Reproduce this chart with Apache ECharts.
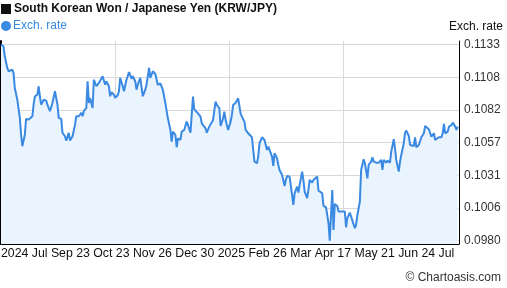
<!DOCTYPE html>
<html><head><meta charset="utf-8">
<script src="https://cdn.jsdelivr.net/npm/echarts@6/dist/echarts.min.js"></script>
<style>html,body{margin:0;padding:0;background:#fff}#c{width:507px;height:288px}</style>
</head><body><div id="c"></div>
<script>
const chartTitle = 'South Korean Won / Japanese Yen (KRW/JPY)';
const seriesName = 'Exch. rate';
const axisName = 'Exch. rate';
const credit = '\u00A9 Chartoasis.com';

const dates = [
'2024-07-26','2024-07-28','2024-07-29','2024-07-31','2024-08-01','2024-08-02','2024-08-04','2024-08-05','2024-08-06','2024-08-08',
'2024-08-10','2024-08-11','2024-08-12','2024-08-14','2024-08-15','2024-08-17','2024-08-18','2024-08-20','2024-08-21','2024-08-22',
'2024-08-24','2024-08-25','2024-08-26','2024-08-27','2024-08-29','2024-08-31','2024-09-01','2024-09-03','2024-09-05','2024-09-07',
'2024-09-09','2024-09-10','2024-09-12','2024-09-13','2024-09-14','2024-09-15','2024-09-16','2024-09-18','2024-09-19','2024-09-21',
'2024-09-23','2024-09-24','2024-09-26','2024-09-28','2024-09-29','2024-09-30','2024-10-02','2024-10-03','2024-10-04','2024-10-05',
'2024-10-07','2024-10-08','2024-10-10','2024-10-12','2024-10-13','2024-10-15','2024-10-17','2024-10-18','2024-10-20','2024-10-21',
'2024-10-22','2024-10-24','2024-10-25','2024-10-27','2024-10-28','2024-10-29','2024-10-31','2024-11-01','2024-11-03','2024-11-04',
'2024-11-05','2024-11-07','2024-11-08','2024-11-10','2024-11-11','2024-11-12','2024-11-14','2024-11-16','2024-11-18','2024-11-19',
'2024-11-21','2024-11-22','2024-11-24','2024-11-26','2024-11-28','2024-11-30','2024-12-01','2024-12-02','2024-12-04','2024-12-05',
'2024-12-06','2024-12-08','2024-12-09','2024-12-10','2024-12-12','2024-12-13','2024-12-14','2024-12-16','2024-12-17','2024-12-19',
'2024-12-21','2024-12-22','2024-12-24','2024-12-26','2024-12-27','2024-12-28','2024-12-30','2025-01-01','2025-01-02','2025-01-05',
'2025-01-06','2025-01-08','2025-01-09','2025-01-11','2025-01-13','2025-01-14','2025-01-16','2025-01-17','2025-01-19','2025-01-20',
'2025-01-21','2025-01-23','2025-01-25','2025-01-26','2025-01-27','2025-01-29','2025-01-30','2025-01-31','2025-02-02','2025-02-03',
'2025-02-05','2025-02-06','2025-02-08','2025-02-09','2025-02-11','2025-02-12','2025-02-13','2025-02-15','2025-02-16','2025-02-17',
'2025-02-19','2025-02-20','2025-02-21','2025-02-23','2025-02-24','2025-02-25','2025-02-27','2025-02-28','2025-03-01','2025-03-03',
'2025-03-04','2025-03-05','2025-03-07','2025-03-09','2025-03-10','2025-03-11','2025-03-13','2025-03-14','2025-03-15','2025-03-16',
'2025-03-17','2025-03-19','2025-03-20','2025-03-21','2025-03-23','2025-03-24','2025-03-25','2025-03-27','2025-03-28','2025-03-29',
'2025-03-31','2025-04-01','2025-04-02','2025-04-04','2025-04-05','2025-04-06','2025-04-08','2025-04-09','2025-04-11','2025-04-12',
'2025-04-13','2025-04-14','2025-04-16','2025-04-17','2025-04-18','2025-04-20','2025-04-21','2025-04-22','2025-04-24','2025-04-26',
'2025-04-27','2025-04-28','2025-04-30','2025-05-01','2025-05-02','2025-05-04','2025-05-05','2025-05-06','2025-05-08','2025-05-09',
'2025-05-11','2025-05-12','2025-05-14','2025-05-15','2025-05-17','2025-05-18','2025-05-19','2025-05-21','2025-05-23','2025-05-25',
'2025-05-26','2025-05-27','2025-05-29','2025-05-30','2025-06-01','2025-06-02','2025-06-04','2025-06-05','2025-06-06','2025-06-08',
'2025-06-09','2025-06-10','2025-06-12','2025-06-13','2025-06-14','2025-06-16','2025-06-17','2025-06-18','2025-06-20','2025-06-21',
'2025-06-22','2025-06-24','2025-06-25','2025-06-26','2025-06-28','2025-06-29','2025-06-30','2025-07-02','2025-07-03','2025-07-04',
'2025-07-06','2025-07-07','2025-07-08','2025-07-10','2025-07-12','2025-07-13','2025-07-14','2025-07-15','2025-07-17','2025-07-18',
'2025-07-20','2025-07-21','2025-07-23','2025-07-24','2025-07-25'
];

const rates = [
0.11330,0.11317,0.11241,0.11148,0.11122,0.11116,0.11134,0.11109,0.10992,0.10900,
0.10758,0.10627,0.10537,0.10627,0.10750,0.10745,0.10737,0.10771,0.10861,0.10927,
0.10939,0.11005,0.10927,0.10861,0.10900,0.10893,0.10861,0.10810,0.10875,0.10966,
0.10861,0.10758,0.10750,0.10641,0.10654,0.10615,0.10581,0.10641,0.10581,0.10615,
0.10705,0.10771,0.10771,0.10797,0.10771,0.10810,0.10836,0.11044,0.10875,0.10914,
0.10836,0.11056,0.11005,0.11031,0.11044,0.11083,0.11017,0.11044,0.11005,0.10927,
0.10958,0.10939,0.10914,0.10935,0.10966,0.11070,0.11005,0.10966,0.11056,0.11083,
0.11116,0.11064,0.11083,0.11044,0.10978,0.11017,0.11070,0.10927,0.10978,0.11017,
0.11148,0.11070,0.11122,0.11101,0.11015,0.11028,0.11033,0.10976,0.10872,0.10859,
0.10755,0.10664,0.10573,0.10651,0.10625,0.10529,0.10599,0.10586,0.10651,0.10664,
0.10729,0.10703,0.10643,0.10924,0.10826,0.10833,0.10794,0.10768,0.10716,0.10677,
0.10643,0.10690,0.10677,0.10742,0.10885,0.10859,0.10833,0.10695,0.10755,0.10807,
0.10742,0.10664,0.10729,0.10781,0.10859,0.10877,0.10877,0.10911,0.10789,0.10768,
0.10729,0.10664,0.10638,0.10625,0.10607,0.10508,0.10417,0.10404,0.10456,0.10560,
0.10607,0.10617,0.10586,0.10508,0.10534,0.10508,0.10456,0.10383,0.10482,0.10443,
0.10391,0.10352,0.10313,0.10227,0.10274,0.10305,0.10300,0.10227,0.10222,0.10079,
0.10170,0.10222,0.10175,0.10235,0.10339,0.10274,0.10183,0.10132,0.10196,0.10274,
0.10253,0.10274,0.10261,0.10300,0.10191,0.10183,0.10170,0.10071,0.10061,0.10046,
0.09937,0.09801,0.10196,0.09884,0.10087,0.10071,0.10027,0.10019,0.10027,0.10027,
0.09905,0.09976,0.10019,0.09988,0.09983,0.09898,0.09923,0.10001,0.10105,0.10352,
0.10436,0.10404,0.10287,0.10391,0.10417,0.10451,0.10417,0.10409,0.10409,0.10430,
0.10352,0.10430,0.10409,0.10425,0.10409,0.10495,0.10592,0.10521,0.10430,0.10339,
0.10417,0.10469,0.10560,0.10643,0.10659,0.10617,0.10547,0.10555,0.10539,0.10607,
0.10529,0.10547,0.10555,0.10607,0.10638,0.10695,0.10685,0.10670,0.10664,0.10612,
0.10638,0.10586,0.10599,0.10607,0.10607,0.10638,0.10711,0.10638,0.10651,0.10690,
0.10703,0.10721,0.10690,0.10664,0.10690
];

const yTickValues = [0.0980, 0.10055, 0.1031, 0.10565, 0.1082, 0.11075, 0.1133];
const yTickLabels = ['0.0980', '0.1006', '0.1031', '0.1057', '0.1082', '0.1108', '0.1133'];
const xTickLabels = ['2024','Jul','Sep','23','Oct','23','Nov','26','Dec','30','2025','Feb','26','Mar','Apr','17','May','21','Jun','24','Jul'];
const xGridDates = ['2024-10-25', '2025-01-24', '2025-04-25'];
const xRange = ['2024-07-26', '2025-07-26'];
const yRange = [0.097743, 0.113581];

const FONT = '"Liberation Sans", Arial, sans-serif';
function ts(s) { const p = s.split('-'); return new Date(+p[0], +p[1] - 1, +p[2]).getTime(); }
const seriesData = dates.map((d, i) => [ts(d), rates[i]]);
const xGrid = xGridDates.map(ts);

const chart = echarts.init(document.getElementById('c'), null, { renderer: 'canvas' });
chart.setOption({
  animation: false,
  textStyle: { fontFamily: FONT },
  title: {
    text: chartTitle, left: 14, top: 3, padding: 0,
    textStyle: { fontFamily: FONT, fontSize: 12, fontWeight: 'bold', color: '#111' }
  },
  legend: {
    left: 1, top: 20, padding: 0, itemWidth: 10, itemHeight: 10, icon: 'circle',
    data: [seriesName],
    textStyle: { fontFamily: FONT, fontSize: 12, color: '#3a89e2', padding: [0, 0, 0, -3] }
  },
  grid: { left: 1, right: 48, top: 41, bottom: 44, containLabel: false },
  xAxis: {
    type: 'time', min: ts(xRange[0]), max: ts(xRange[1]),
    axisLine: { show: true, lineStyle: { color: '#000', width: 1 } },
    axisTick: { show: false, customValues: xGrid },
    axisLabel: { show: false, customValues: xGrid },
    splitLine: { show: true, lineStyle: { color: '#d9d9d9', width: 1 } }
  },
  yAxis: [{
    type: 'value', position: 'right', min: yRange[0], max: yRange[1],
    axisLine: { show: true, lineStyle: { color: '#000', width: 1 } },
    axisTick: { show: false, customValues: yTickValues },
    axisLabel: {
      customValues: yTickValues, margin: 5, color: '#333', fontSize: 12, fontFamily: FONT,
      formatter: v => { const i = yTickValues.findIndex(t => Math.abs(t - v) < 1e-7); return i >= 0 ? yTickLabels[i] : ''; }
    },
    splitLine: { show: true, lineStyle: { color: '#d9d9d9', width: 1 } }
  }, {
    type: 'value', position: 'left', min: yRange[0], max: yRange[1],
    axisLine: { show: true, lineStyle: { color: '#000', width: 2 } },
    axisTick: { show: false }, axisLabel: { show: false }, splitLine: { show: false }
  }],
  series: [{
    name: seriesName, type: 'line', yAxisIndex: 0, data: seriesData,
    showSymbol: false, symbol: 'none', smooth: false,
    itemStyle: { color: '#3a89e2' },
    lineStyle: { color: '#3a89e2', width: 2 },
    areaStyle: { color: '#eaf4fe', opacity: 1 }
  }],
  graphic: [
    { type: 'rect', left: 1, top: 4, shape: { width: 10, height: 10 }, style: { fill: '#111' } },
    { type: 'text', right: 4, top: 21, style: { text: axisName, font: '12px ' + FONT, fill: '#111' } },
    { type: 'text', left: 1, top: 248, style: { text: xTickLabels.join(' '), font: '12.3px ' + FONT, fill: '#111' } },
    { type: 'text', right: 6, top: 272, style: { text: credit, font: '12px ' + FONT, fill: '#333' } }
  ]
});
</script>
</body></html>
